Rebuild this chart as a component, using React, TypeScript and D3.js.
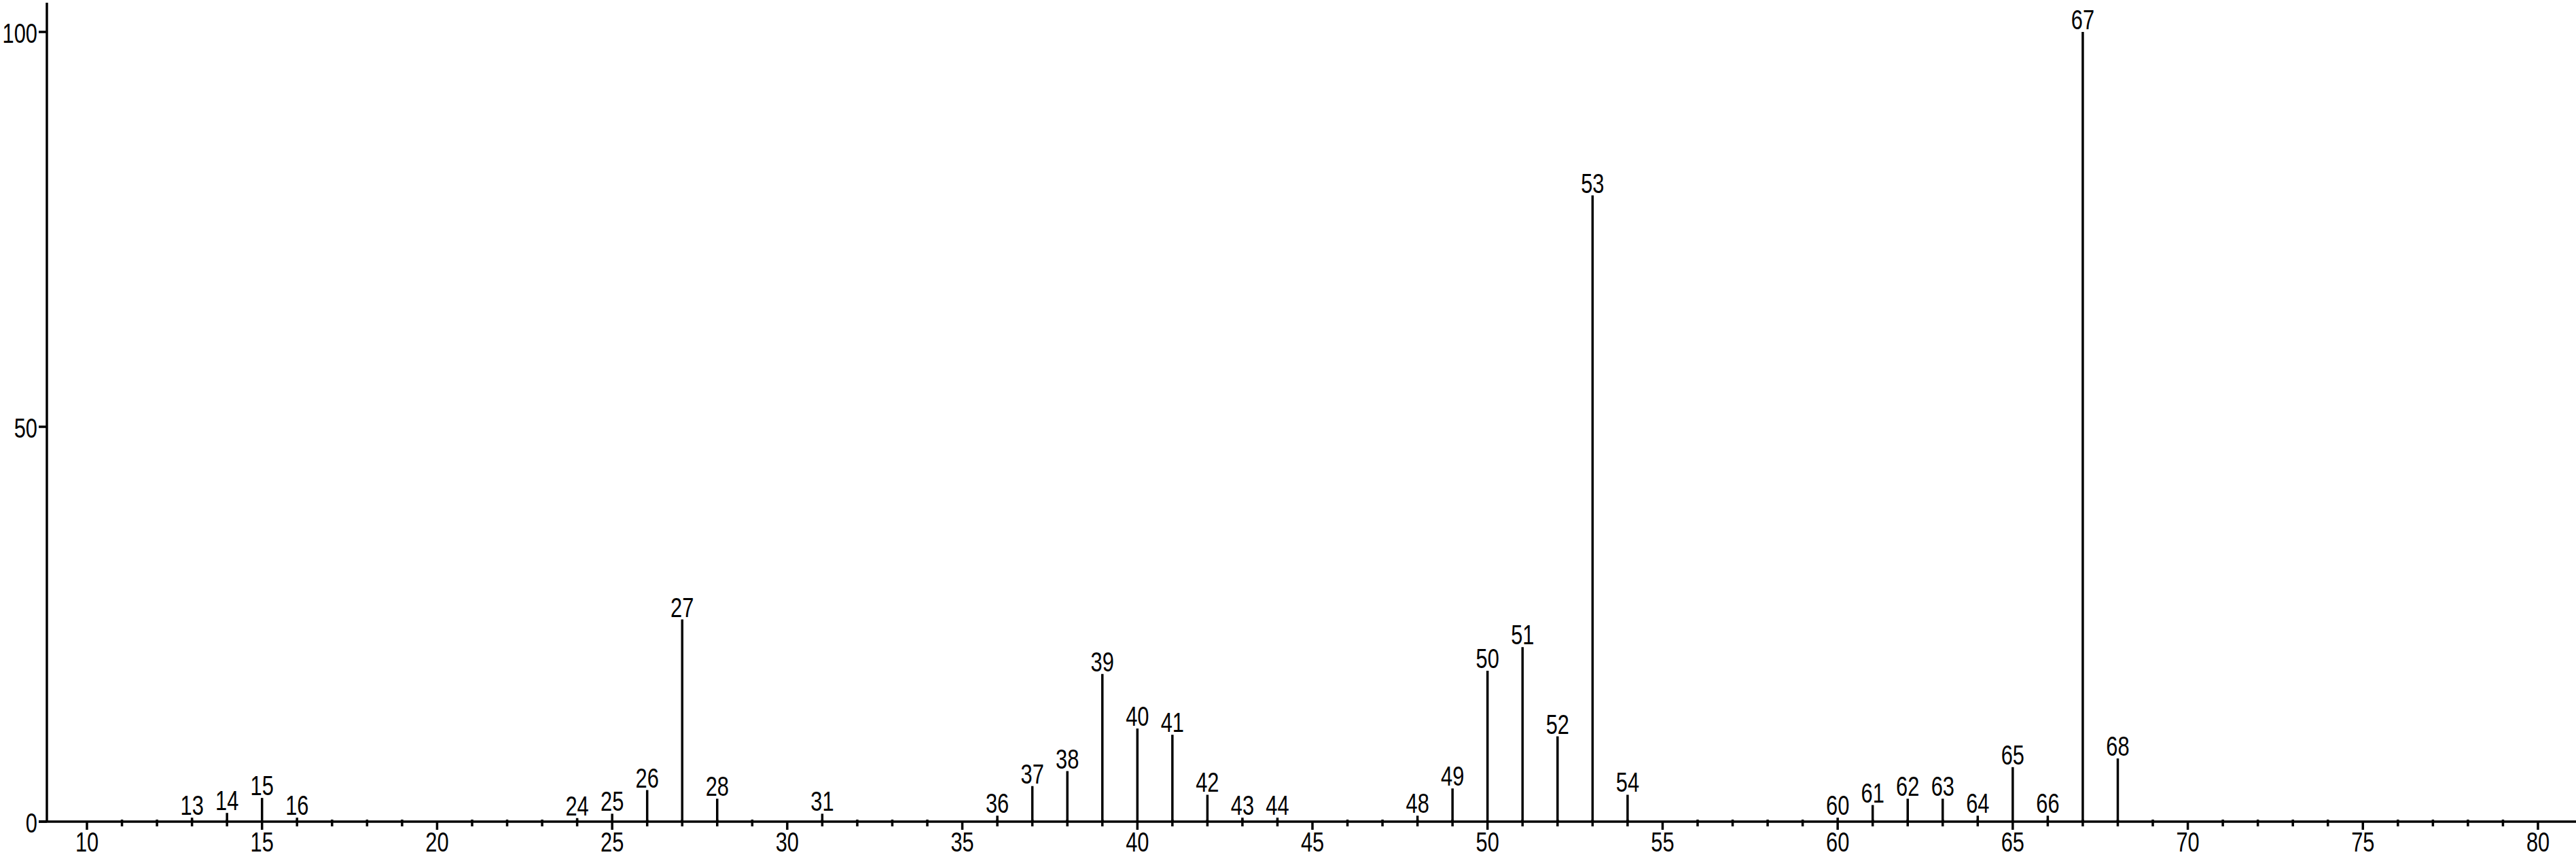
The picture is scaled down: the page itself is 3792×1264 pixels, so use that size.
import React from "react";
import * as d3 from "d3";

const masses = [13, 14, 15, 16, 24, 25, 26, 27, 28, 31, 36, 37, 38, 39, 40, 41, 42, 43, 44, 48, 49, 50, 51, 52, 53, 54, 60, 61, 62, 63, 64, 65, 66, 67, 68];
const intensities = [0.5, 1.1, 3.0, 0.5, 0.45, 1.0, 4.0, 25.6, 2.9, 1.0, 0.75, 4.5, 6.4, 18.7, 11.8, 11.0, 3.4, 0.5, 0.5, 0.75, 4.2, 19.1, 22.1, 10.8, 79.3, 3.4, 0.5, 2.1, 2.9, 2.9, 0.75, 6.9, 0.75, 100, 8.0];
const yTicks = [0, 50, 100];
const xMajorTicks = [10, 15, 20, 25, 30, 35, 40, 45, 50, 55, 60, 65, 70, 75, 80];

const W = 3792;
const H = 1264;
const FONT = "'Liberation Sans', Arial, sans-serif";
const FS = 40;
const SX = 0.77;

if (typeof document !== "undefined") {
  document.body.style.margin = "0";
}

function Label({ x, y, anchor, dy, children }: { x: number; y: number; anchor: string; dy?: string; children: React.ReactNode }) {
  return (
    <text
      transform={`translate(${x},${y}) scale(${SX},1)`}
      textAnchor={anchor}
      dy={dy}
      fontSize={FS}
      fill="#000"
    >
      {children}
    </text>
  );
}

export default function App() {
  const x = d3.scaleLinear().domain([10, 80]).range([128, 3736]);
  const y = d3.scaleLinear().domain([0, 100]).range([1209, 47]);
  const minorTicks = d3.range(10, 81, 1).filter((t) => t % 5 !== 0);
  const axisX = 69;
  const base = y(0);
  const sw = 3.5;

  return (
    <svg width={W} height={H} style={{ display: "block", background: "#fff" }} fontFamily={FONT}>
      {/* y axis */}
      <line x1={axisX} x2={axisX} y1={4} y2={base} stroke="#000" strokeWidth={sw} />
      {yTicks.map((t) => (
        <g key={"y" + t}>
          <line x1={axisX - 12} x2={axisX} y1={y(t)} y2={y(t)} stroke="#000" strokeWidth={sw} />
          <Label x={axisX - 14} y={y(t)} anchor="end" dy="0.4em">
            {t}
          </Label>
        </g>
      ))}
      {/* x axis */}
      <line x1={axisX - 12} x2={W} y1={base} y2={base} stroke="#000" strokeWidth={sw} />
      {xMajorTicks.map((t) => (
        <g key={"x" + t}>
          <line x1={x(t)} x2={x(t)} y1={base} y2={base + 12} stroke="#000" strokeWidth={sw} />
          <Label x={x(t)} y={1253} anchor="middle">
            {t}
          </Label>
        </g>
      ))}
      {minorTicks.map((t) => (
        <line key={"m" + t} x1={x(t)} x2={x(t)} y1={base - 3} y2={base + 7} stroke="#000" strokeWidth={sw} />
      ))}
      {/* peaks */}
      {masses.map((m, i) => (
        <g key={"p" + m}>
          <line x1={x(m)} x2={x(m)} y1={base} y2={y(intensities[i])} stroke="#000" strokeWidth={sw} />
          <Label x={x(m)} y={y(intensities[i]) - 4} anchor="middle">
            {m}
          </Label>
        </g>
      ))}
    </svg>
  );
}
